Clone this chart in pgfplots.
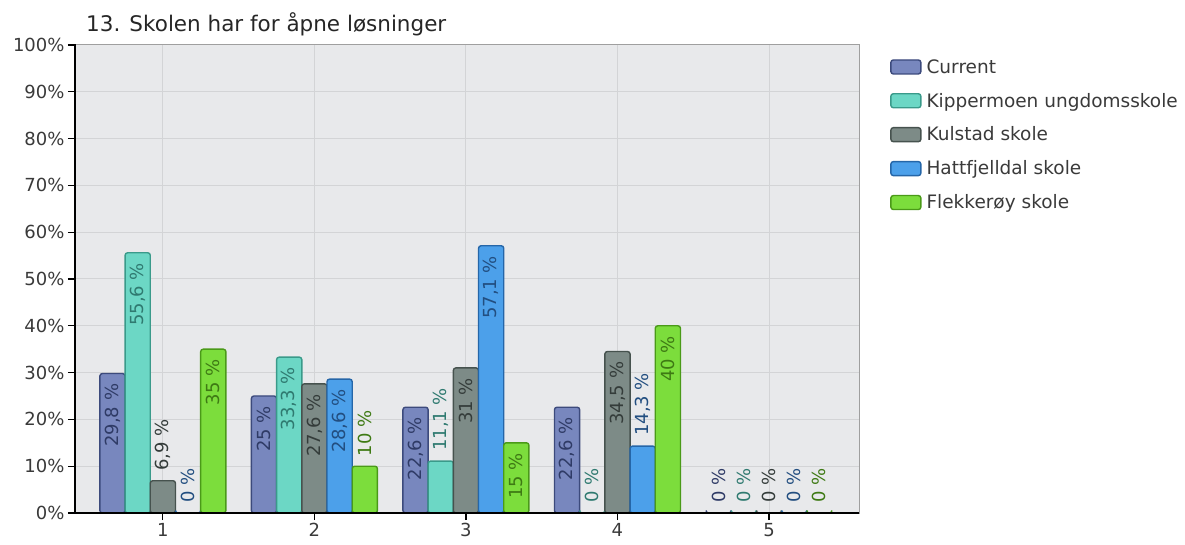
\documentclass[border=0pt]{standalone}
\usepackage{pgfplots}
\pgfplotsset{compat=1.18}
\usepackage{pgfplotstable}
\usepackage{fontspec}
\setmainfont{DejaVu Sans}

\definecolor{curF}{HTML}{7887BE}\definecolor{curD}{HTML}{3C4A7C}\definecolor{curT}{HTML}{2F3B66}
\definecolor{kipF}{HTML}{6CD7C5}\definecolor{kipD}{HTML}{3A9A8A}\definecolor{kipT}{HTML}{2F7A70}
\definecolor{kulF}{HTML}{7D8B87}\definecolor{kulD}{HTML}{46524E}\definecolor{kulT}{HTML}{343C3A}
\definecolor{hatF}{HTML}{4CA0EA}\definecolor{hatD}{HTML}{2566A8}\definecolor{hatT}{HTML}{224E80}
\definecolor{flkF}{HTML}{7CDD3C}\definecolor{flkD}{HTML}{4A9A18}\definecolor{flkT}{HTML}{3E7A14}
\definecolor{plotbg}{HTML}{E8E9EB}
\definecolor{gridc}{HTML}{D3D4D6}
\definecolor{txt}{HTML}{3A3A3A}

\pgfplotstableread{
x y
1 29.8
2 25
3 22.6
4 22.6
5 0
}\tcur
\pgfplotstableread{
x y
1 55.6
2 33.3
3 11.1
4 0
5 0
}\tkip
\pgfplotstableread{
x y
1 6.9
2 27.6
3 31
4 34.5
5 0
}\tkul
\pgfplotstableread{
x y
1 0
2 28.6
3 57.1
4 14.3
5 0
}\thatt
\pgfplotstableread{
x y
1 35
2 10
3 15
4 40
5 0
}\tflk

\pgfplotsset{
  labbase/.style={
    draw=none, fill=none, forget plot,
    nodes near coords={\pgfmathprintnumber[use comma]{\pgfplotspointmeta}~\%},
    every node near coord/.append style={rotate=90, inner xsep=10bp, inner ysep=0pt,
       font=\fontsize{18bp}{21bp}\selectfont, text=#1},
  },
  labin/.style={labbase=#1, y filter/.expression={y>=14.6 ? y : nan},
    every node near coord/.append style={anchor=east}},
  labout/.style={labbase=#1, y filter/.expression={y<14.6 ? y : nan},
    every node near coord/.append style={anchor=west}},
  barst/.style n args={2}{fill=#1, draw=#2, line width=1.4bp, rounded corners=2.5bp},
}

\begin{document}
\begin{tikzpicture}
\path[use as bounding box] (-75bp,-32bp) rectangle (1110bp,513bp);
\begin{axis}[
  at={(0,0)}, anchor=south west,
  scale only axis, width=784bp, height=468bp,
  xmin=0.42, xmax=5.594, ymin=0, ymax=100,
  xtick={1,2,3,4,5}, ytick={0,10,...,100},
  yticklabel={\pgfmathprintnumber{\tick}\%},
  tick align=outside, major tick length=7bp,
  xtick pos=bottom, ytick pos=left,
  tick style={black, line width=1.2bp},
  ticklabel style={font=\fontsize{18bp}{21bp}\selectfont, text=txt},
  /pgf/number format/assume math mode=true,
  grid=major, major grid style={gridc, line width=1bp},
  axis background/.style={fill=plotbg},
  axis line style={draw=gray!75, line width=1bp},
  ybar, bar width=25.2bp,
  legend image code/.code={\draw[#1, rounded corners=2.5bp] (0bp,-7bp) rectangle (30bp,7bp);},
  legend style={draw=none, fill=none, at={(1.0395,0.974)}, anchor=north west,
     font=\fontsize{18.5bp}{21bp}\selectfont, text=txt, row sep=14.4bp, column sep=3bp,
     inner sep=0pt},
  legend cell align=left,
]
\addplot[barst={curF}{curD}, bar shift=-50.4bp] table[x=x,y=y] {\tcur};
\addplot[barst={kipF}{kipD}, bar shift=-25.2bp] table[x=x,y=y] {\tkip};
\addplot[barst={kulF}{kulD}, bar shift=0bp] table[x=x,y=y] {\tkul};
\addplot[barst={hatF}{hatD}, bar shift=25.2bp] table[x=x,y=y] {\thatt};
\addplot[barst={flkF}{flkD}, bar shift=50.4bp] table[x=x,y=y] {\tflk};
\legend{Current, Kippermoen ungdomsskole, Kulstad skole, Hattfjelldal skole, Flekkerøy skole}

\addplot[labin=curT, bar shift=-50.4bp] table[x=x,y=y] {\tcur};
\addplot[labout=curT, bar shift=-50.4bp] table[x=x,y=y] {\tcur};
\addplot[labin=kipT, bar shift=-25.2bp] table[x=x,y=y] {\tkip};
\addplot[labout=kipT, bar shift=-25.2bp] table[x=x,y=y] {\tkip};
\addplot[labin=kulT, bar shift=0bp] table[x=x,y=y] {\tkul};
\addplot[labout=kulT, bar shift=0bp] table[x=x,y=y] {\tkul};
\addplot[labin=hatT, bar shift=25.2bp] table[x=x,y=y] {\thatt};
\addplot[labout=hatT, bar shift=25.2bp] table[x=x,y=y] {\thatt};
\addplot[labin=flkT, bar shift=50.4bp] table[x=x,y=y] {\tflk};
\addplot[labout=flkT, bar shift=50.4bp] table[x=x,y=y] {\tflk};
\end{axis}
\draw[black, line width=2bp] (0bp,468.5bp) -- (0bp,0bp) -- (784bp,0bp);
\node[anchor=base west, inner sep=0pt, font=\fontsize{21.5bp}{25bp}\selectfont, text=black!85]
  at (11bp,481bp) {13. Skolen har for åpne løsninger};
\end{tikzpicture}
\end{document}
